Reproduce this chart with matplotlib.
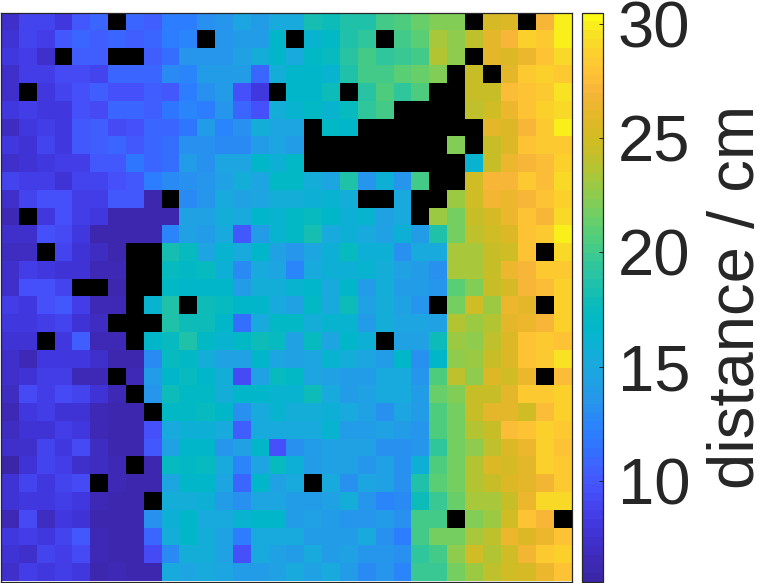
import numpy as np
import matplotlib
matplotlib.use('Agg')
import matplotlib.pyplot as plt
from matplotlib.colors import LinearSegmentedColormap

nan = np.nan

# measured distance in cm, black cells are missing readings
row00 = [7.5, 8.8, 9.0, 8.3, 9.9, 10.7, nan, 10.7, 10.5, 12.2, 12.2, 13.0, 13.4, 14.8, 14.0, 15.3, 15.3, 18.4, 17.8, 18.8, 18.8, 20.0, 20.7, 21.5, 22.3, 22.3, nan, 25.2, 25.8, nan, 27.3, 29.8]
row01 = [7.8, 9.0, 8.4, 9.9, 10.7, 10.4, 11.0, 10.5, 11.0, 12.0, 12.6, nan, 13.4, 14.0, 13.9, 16.5, nan, 16.3, 17.1, 18.6, 19.4, nan, 20.0, 20.9, 23.4, 22.6, 24.0, 26.0, 27.2, 28.8, 28.3, 30.0]
row02 = [8.0, 8.6, 7.5, nan, 10.4, 10.3, nan, nan, 10.6, 11.4, 13.5, 13.6, 13.7, 14.2, 15.6, 16.8, 15.0, 16.9, 17.5, 19.0, 20.2, 19.4, 19.9, 20.0, 23.7, 22.4, nan, 26.0, 25.8, 26.5, 28.0, 29.2]
row03 = [7.4, 8.5, 8.5, 9.3, 9.3, 8.9, 11.0, 10.9, 10.8, 12.7, 12.3, 13.8, 13.9, 14.0, 11.0, 15.5, 16.7, 16.7, 16.2, 18.7, 20.3, 20.3, 20.9, 21.4, 22.1, nan, 24.5, nan, 25.9, 28.2, 28.8, 28.4]
row04 = [7.2, nan, 8.0, 9.0, 9.7, 10.6, 9.5, 9.7, 10.5, 10.2, 12.0, 13.0, 13.8, 9.6, 8.0, nan, 16.8, 16.8, 17.9, nan, 19.0, 20.7, 19.6, 20.6, nan, nan, 24.5, 24.6, 27.5, 27.8, 28.3, 29.5]
row05 = [8.0, 8.6, 8.0, 8.1, 9.5, 9.2, 11.0, 10.9, 10.6, 11.6, 12.3, 12.0, 13.4, 10.8, 9.6, 15.7, 16.3, 17.2, 16.3, 17.6, 19.6, 20.3, nan, nan, nan, nan, 24.0, 24.8, 26.6, 28.0, 28.8, 29.0]
row06 = [7.1, 8.2, 8.7, 8.2, 10.2, 10.6, 9.3, 9.6, 11.0, 11.0, 11.8, 13.8, 12.6, 13.2, 15.5, 14.6, 14.6, nan, 17.0, 16.5, nan, nan, nan, nan, nan, nan, nan, 26.0, 25.8, 27.2, 28.2, 30.0]
row07 = [8.1, 7.8, 8.8, 8.0, 10.0, 10.4, 10.7, 10.1, 11.0, 11.4, 13.3, 13.0, 12.8, 12.8, 14.0, 14.6, 14.0, nan, nan, nan, nan, nan, nan, nan, nan, 22.3, nan, 24.6, 25.7, 27.8, 28.3, 28.4]
row08 = [7.5, 7.8, 8.0, 8.6, 8.4, 10.0, 9.9, 11.7, 11.0, 11.3, 13.8, 13.3, 14.8, 14.8, 16.8, 15.8, 17.0, nan, nan, nan, nan, nan, nan, nan, nan, nan, 16.2, 24.6, 26.4, 27.3, 27.4, 28.6]
row09 = [8.8, 8.5, 8.4, 7.8, 8.8, 9.1, 9.8, 10.2, 11.9, 12.9, 13.0, 13.6, 14.4, 15.7, 14.9, 17.0, 17.0, 15.5, 14.6, 18.5, 13.7, 16.0, 13.6, 20.0, nan, nan, 24.8, 27.0, 27.3, 28.4, 27.6, 29.0]
row10 = [7.5, 8.8, 9.8, 9.5, 8.6, 8.5, 10.0, 10.0, 6.2, nan, 12.8, 13.4, 15.0, 14.2, 14.8, 15.5, 15.4, 16.0, 16.2, 15.4, nan, nan, 15.0, nan, nan, 23.0, 25.0, 26.7, 26.3, 27.3, 28.0, 28.8]
row11 = [6.7, nan, 8.0, 9.7, 8.6, 8.0, 6.3, 6.3, 6.2, 6.3, 14.2, 14.4, 15.4, 15.0, 16.8, 16.3, 16.9, 17.4, 16.8, 16.0, 16.4, 14.2, 15.2, nan, 23.0, 21.9, 24.6, 25.2, 26.4, 28.0, 27.3, 29.2]
row12 = [7.4, 7.2, 9.6, 9.2, 8.0, 6.3, 6.0, 6.0, 6.0, 12.3, 14.5, 14.0, 15.0, 10.0, 14.1, 16.3, 16.9, 18.2, 15.0, 16.1, 15.3, 14.4, 16.0, 13.8, 18.5, 21.8, 24.0, 25.0, 25.6, 28.0, 28.2, 30.0]
row13 = [6.8, 7.0, nan, 9.0, 7.8, 7.0, 6.3, nan, nan, 18.3, 17.4, 14.6, 16.2, 15.0, 16.8, 14.2, 13.5, 14.6, 16.0, 17.3, 16.0, 15.8, 13.2, 15.2, 15.2, 23.4, 23.2, 24.6, 25.0, 27.9, nan, 29.0]
row14 = [7.3, 8.6, 8.0, 7.9, 7.8, 6.6, 6.6, nan, nan, 17.3, 16.9, 17.4, 15.8, 12.8, 15.0, 14.6, 12.6, 15.0, 15.9, 15.8, 16.3, 15.5, 14.2, 14.0, 13.2, 23.2, 23.2, 24.4, 26.6, 27.1, 28.2, 28.2]
row15 = [7.4, 9.7, 9.5, 9.0, nan, nan, 6.3, nan, nan, 17.0, 16.5, 16.5, 16.8, 13.9, 15.6, 15.6, 16.3, 16.8, 15.0, 16.8, 14.0, 15.6, 14.0, 14.0, 13.4, 21.0, 22.0, 24.4, 25.4, 27.3, 27.7, 28.8]
row16 = [8.6, 8.2, 9.5, 10.2, 8.6, 6.5, 6.5, nan, 16.3, 18.8, nan, 17.8, 17.3, 16.6, 16.6, 15.0, 14.2, 17.0, 15.0, 17.9, 14.5, 15.4, 14.4, 13.7, nan, 21.7, 24.8, 23.0, 26.6, 26.0, nan, 28.6]
row17 = [8.0, 8.0, 8.5, 9.0, 7.7, 7.0, nan, nan, nan, 18.6, 18.0, 17.8, 16.5, 11.2, 15.0, 16.9, 17.0, 15.6, 16.4, 16.4, 14.0, 15.4, 14.8, 14.7, 14.4, 23.8, 23.0, 23.6, 25.9, 26.3, 27.2, 28.7]
row18 = [7.7, 7.6, nan, 8.0, 10.3, 6.5, 6.4, nan, 16.8, 17.5, 18.6, 17.0, 16.4, 16.9, 18.0, 17.6, 14.5, 17.6, 14.8, 16.7, 16.0, nan, 14.3, 14.3, 18.0, 22.8, 22.6, 24.0, 25.7, 27.8, 28.3, 28.0]
row19 = [7.5, 6.7, 8.2, 8.3, 8.3, 7.4, 6.2, 6.2, 12.8, 17.3, 17.1, 15.4, 14.4, 14.4, 16.5, 14.8, 14.3, 14.6, 16.4, 15.6, 14.6, 13.8, 16.8, 13.3, 16.8, 22.6, 23.0, 24.5, 25.7, 27.9, 28.2, 29.4]
row20 = [7.2, 7.8, 8.6, 8.5, 6.6, 6.6, nan, 6.4, 14.0, 16.6, 17.3, 16.7, 15.7, 9.2, 14.3, 17.4, 17.0, 14.7, 14.4, 14.1, 14.0, 15.0, 15.2, 13.5, 20.6, 24.0, 22.6, 25.7, 24.7, 26.6, nan, 27.6]
row21 = [7.0, 9.2, 8.4, 9.2, 9.1, 7.6, 6.5, nan, 13.6, 18.0, 17.0, 17.2, 15.6, 16.5, 16.8, 16.2, 16.4, 17.8, 15.0, 14.0, 14.4, 15.0, 15.0, 14.0, 21.4, 22.2, 24.6, 24.6, 26.0, 28.5, 28.2, 28.6]
row22 = [6.5, 8.0, 8.4, 7.6, 7.6, 6.4, 6.2, 6.2, nan, 16.9, 16.9, 17.3, 16.5, 13.0, 15.2, 16.2, 15.7, 15.4, 16.0, 15.2, 14.4, 13.2, 14.8, 13.8, 20.4, 21.8, 24.6, 26.0, 26.0, 25.0, 27.6, 28.6]
row23 = [7.1, 7.7, 7.6, 8.4, 8.0, 6.4, 6.2, 6.2, 9.8, 15.0, 16.0, 16.0, 15.0, 10.4, 15.3, 15.0, 15.3, 15.2, 16.3, 14.0, 14.1, 14.4, 14.0, 13.4, 20.4, 21.7, 23.6, 24.6, 27.6, 28.0, 28.8, 28.5]
row24 = [7.4, 7.2, 8.8, 8.2, 9.4, 6.8, 6.3, 6.2, 10.0, 14.5, 16.6, 16.6, 13.6, 14.5, 16.7, 9.5, 13.3, 14.0, 14.2, 14.2, 14.2, 13.2, 13.1, 13.6, 19.6, 21.9, 22.6, 24.0, 25.6, 26.4, 28.6, 28.1]
row25 = [5.9, 7.8, 8.8, 8.6, 7.3, 7.0, 6.4, nan, 6.2, 17.6, 17.2, 17.4, 15.0, 12.3, 14.8, 17.5, 16.0, 14.0, 14.2, 14.2, 13.6, 14.5, 13.1, 15.8, 20.5, 21.9, 23.6, 25.8, 25.3, 25.9, 28.6, 28.2]
row26 = [7.6, 8.9, 8.1, 8.8, 9.4, nan, 6.7, 6.3, 6.2, 14.6, 16.7, 16.6, 14.6, 10.7, 16.7, 14.2, 15.3, nan, 15.0, 13.0, 14.6, 14.3, 13.2, 18.5, 20.8, 21.9, 23.6, 24.6, 25.7, 25.9, 26.8, 28.4]
row27 = [7.8, 8.2, 8.2, 8.4, 8.2, 6.4, 6.2, 6.2, nan, 15.6, 15.6, 16.0, 14.0, 13.0, 14.6, 14.8, 13.9, 14.0, 14.3, 15.6, 13.7, 12.5, 12.9, 18.0, 19.9, 21.5, 23.3, 23.4, 24.6, 26.6, 29.0, 29.0]
row28 = [6.5, 9.3, 7.0, 8.2, 7.7, 6.2, 6.2, 6.2, 13.0, 15.8, 16.8, 15.2, 15.2, 16.4, 16.5, 16.6, 14.0, 14.3, 14.0, 13.6, 13.4, 14.0, 13.0, 20.3, 20.0, nan, 22.0, 23.0, 24.7, 28.0, 27.0, nan]
row29 = [8.0, 8.7, 8.3, 8.8, 10.2, 6.7, 6.2, 6.2, 11.0, 15.4, 16.7, 15.4, 14.3, 12.2, 15.2, 15.2, 15.2, 14.0, 14.0, 13.9, 15.2, 13.3, 12.2, 20.0, 21.8, 21.8, 23.2, 23.9, 26.5, 25.7, 26.6, 27.8]
row30 = [7.7, 7.4, 9.0, 8.7, 9.2, 6.7, 6.2, 6.2, 9.4, 12.8, 15.4, 15.4, 14.5, 9.8, 15.0, 14.3, 14.0, 15.0, 14.0, 14.4, 13.7, 13.6, 13.0, 19.5, 20.0, 22.7, 25.0, 23.7, 24.8, 26.8, 28.5, 28.6]
row31 = [7.2, 8.4, 8.2, 8.4, 8.3, 6.1, 6.4, 6.2, 6.2, 15.2, 14.9, 15.2, 14.8, 13.9, 14.0, 14.3, 15.3, 14.2, 15.0, 13.8, 12.8, 13.6, 12.4, 19.8, 19.7, 21.9, 23.0, 24.0, 25.0, 25.4, 26.5, 27.9]

distance = np.array([row00, row01, row02, row03, row04, row05, row06, row07,
                     row08, row09, row10, row11, row12, row13, row14, row15,
                     row16, row17, row18, row19, row20, row21, row22, row23,
                     row24, row25, row26, row27, row28, row29, row30, row31])

cbar_ticks = [10, 15, 20, 25, 30]

# parula, stretched to 64 levels
parula_anchors = ['#3c26a8', '#3f2ab8', '#4030cc', '#4238e0', '#4545f0', '#4552fb',
                  '#4060ff', '#3370ff', '#2b80ff', '#2a8cf3', '#2599ea', '#1fa3e2',
                  '#17abdc', '#0bb2d2', '#00b8c8', '#08bbbd', '#1cc0ad', '#2cc5a0',
                  '#3fca8e', '#55ce78', '#70cf64', '#8bcc50', '#a5c83c', '#bcc22e',
                  '#cfbd24', '#dcb926', '#ebb72d', '#f8b639', '#ffc236', '#fdd02c',
                  '#f7e324', '#fcfb14']
cmap = LinearSegmentedColormap.from_list('parula', parula_anchors, N=64)
cmap.set_bad('black')

plt.rcParams['font.family'] = ['Liberation Sans', 'DejaVu Sans']
dark = '#262626'

fig = plt.figure(figsize=(7.62, 5.83), dpi=100)
W, H = 762.0, 583.0
ax = fig.add_axes([1 / W, 1 - 581.5 / H, 570.5 / W, 569 / H])
cax = fig.add_axes([581.5 / W, 1 - 581.5 / H, 21 / W, 569 / H])

im = ax.imshow(distance, cmap=cmap, vmin=5.6, vmax=30.5, aspect='auto',
               interpolation='nearest')
ax.set_xticks([])
ax.set_yticks([])
for s in ax.spines.values():
    s.set_color(dark)
    s.set_linewidth(0.9)

cbar = fig.colorbar(im, cax=cax)
cbar.set_ticks(cbar_ticks)
cbar.ax.tick_params(direction='in', length=3.2, width=0.7, color=dark,
                    labelcolor=dark, labelsize=47, pad=11)
cbar.outline.set_edgecolor(dark)
cbar.outline.set_linewidth(0.9)
cbar.set_label('distance / cm', fontsize=47, color=dark, labelpad=12)

fig.savefig('out.png', dpi=100)
